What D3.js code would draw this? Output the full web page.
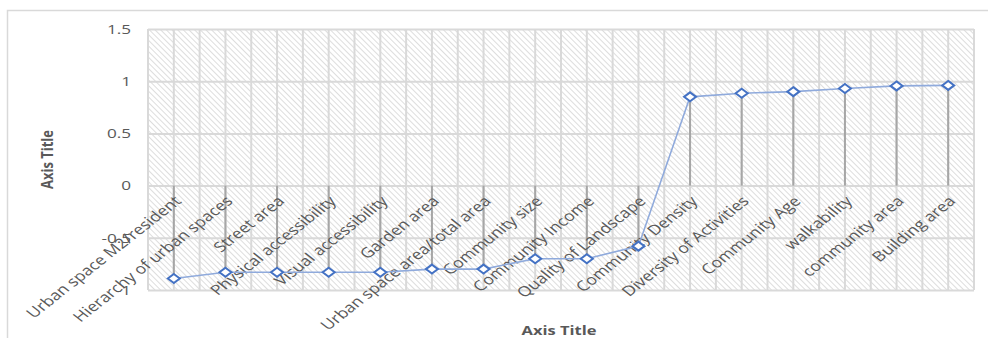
<!DOCTYPE html>
<html>
<head>
<meta charset="utf-8">
<script src="https://cdn.jsdelivr.net/npm/d3@7"></script>
<style>
  body { margin: 0; background: #fff; }
  svg { display: block; }
</style>
</head>
<body>
<div id="chart"></div>
<script>
// categories along the x axis
const categories = [
  'Urban space M2/resident', 'Hierarchy of urban spaces', 'Street area',
  'Physical accessibility', 'Visual accessibility', 'Garden area',
  'Urban space area/total area', 'Community size', 'Community Income',
  'Quality of Landscape', 'Community Density', 'Diversity of Activities',
  'Community Age', 'walkability', 'community area', 'Building area'
];
// series values
const values = [
  -0.89, -0.83, -0.83, -0.83, -0.83, -0.80, -0.80, -0.70,
  -0.70, -0.58, 0.85, 0.885, 0.90, 0.93, 0.955, 0.96
];
const yTicks = [-1, -0.5, 0, 0.5, 1, 1.5];
const yTickLabels = ['-1', '-0.5', '0', '0.5', '1', '1.5'];

const width = 988;
const height = 338;
const plot = { left: 148, right: 974, top: 29, bottom: 290 };
const sx = 1.27; // the picture is stretched sideways, text too
const textColor = '#595959';
const gridColor = '#d9d9d9';
const font = 'Open Sans';

const svg = d3.select('#chart').append('svg')
  .attr('width', width)
  .attr('height', height);

// hatch fill of the plot area
const defs = svg.append('defs');
defs.append('pattern')
  .attr('id', 'hatch')
  .attr('patternUnits', 'userSpaceOnUse')
  .attr('width', 4)
  .attr('height', 4)
  .attr('patternTransform', 'rotate(-45)')
  .append('line')
  .attr('x1', 0).attr('y1', 0).attr('x2', 0).attr('y2', 4)
  .attr('stroke', '#d4d4d4')
  .attr('stroke-width', 1.6);

// chart border (only top and left are in view)
svg.append('rect')
  .attr('x', 7.5).attr('y', 10.5)
  .attr('width', 1000).attr('height', 400)
  .attr('fill', 'none')
  .attr('stroke', gridColor)
  .attr('stroke-width', 1.5);

const x = d3.scaleBand()
  .domain(categories)
  .range([plot.left, plot.right]);

const y = d3.scaleLinear()
  .domain([-1, 1.5])
  .range([plot.bottom, plot.top]);

svg.append('rect')
  .attr('x', plot.left).attr('y', plot.top)
  .attr('width', plot.right - plot.left)
  .attr('height', plot.bottom - plot.top)
  .attr('fill', 'url(#hatch)');

// gridlines: horizontal at ticks
const yGrid = d3.axisRight(y)
  .tickValues(yTicks)
  .tickSize(plot.right - plot.left)
  .tickFormat('');
svg.append('g')
  .attr('transform', `translate(${plot.left},0)`)
  .call(yGrid)
  .call((g) => g.select('.domain').remove())
  .call((g) => g.selectAll('line').attr('stroke', gridColor).attr('stroke-width', 2));

// vertical gridlines at band edges and band centers
const vLines = [];
categories.forEach((c) => {
  vLines.push(x(c));
  vLines.push(x(c) + x.bandwidth() / 2);
});
vLines.push(plot.right);
svg.append('g')
  .selectAll('line')
  .data(vLines)
  .join('line')
  .attr('x1', (d) => d).attr('x2', (d) => d)
  .attr('y1', plot.top).attr('y2', plot.bottom)
  .attr('stroke', gridColor)
  .attr('stroke-width', 2);

// y tick labels
svg.append('g')
  .selectAll('text')
  .data(yTicks)
  .join('text')
  .attr('transform', (d) => `translate(131,${y(d)}) scale(${sx},1)`)
  .attr('dy', '0.35em')
  .attr('text-anchor', 'end')
  .attr('font-family', font)
  .attr('font-size', 13.5)
  .attr('fill', textColor)
  .text((d, i) => yTickLabels[i]);

const cx = (c) => x(c) + x.bandwidth() / 2;

// drop lines from zero to each point
svg.append('g')
  .selectAll('line')
  .data(categories)
  .join('line')
  .attr('x1', cx).attr('x2', cx)
  .attr('y1', y(0))
  .attr('y2', (d, i) => y(values[i]))
  .attr('stroke', '#a6a6a6')
  .attr('stroke-width', 2);

// category labels, rotated, hanging off the zero line
svg.append('g')
  .selectAll('text')
  .data(categories)
  .join('text')
  .attr('transform', (d) => `translate(${cx(d) + 4},${y(0) + 13}) scale(${sx},1) rotate(-45)`)
  .attr('text-anchor', 'end')
  .attr('dy', '0.35em')
  .attr('font-family', font)
  .attr('font-size', 14)
  .attr('fill', textColor)
  .text((d) => d);

// series line
const line = d3.line()
  .x((d, i) => cx(categories[i]))
  .y((d) => y(d));
svg.append('path')
  .datum(values)
  .attr('d', line)
  .attr('fill', 'none')
  .attr('stroke', '#8faadc')
  .attr('stroke-width', 1.6);

// diamond markers
const diamond = 'M0,-4.5L6,0L0,4.5L-6,0Z';
svg.append('g')
  .selectAll('path')
  .data(values)
  .join('path')
  .attr('transform', (d, i) => `translate(${cx(categories[i])},${y(d)})`)
  .attr('d', diamond)
  .attr('fill', '#fff')
  .attr('stroke', '#4472c4')
  .attr('stroke-width', 2);

// axis titles
svg.append('text')
  .attr('transform', `translate(53,${(plot.top + plot.bottom) / 2}) scale(${sx},1) rotate(-90)`)
  .attr('text-anchor', 'middle')
  .attr('font-family', font)
  .attr('font-size', 13)
  .attr('font-weight', 'bold')
  .attr('fill', textColor)
  .text('Axis Title');

svg.append('text')
  .attr('transform', `translate(${(plot.left + plot.right) / 2 - 2},335) scale(${sx},1)`)
  .attr('text-anchor', 'middle')
  .attr('font-family', font)
  .attr('font-size', 13)
  .attr('font-weight', 'bold')
  .attr('fill', textColor)
  .text('Axis Title');
</script>
</body>
</html>
